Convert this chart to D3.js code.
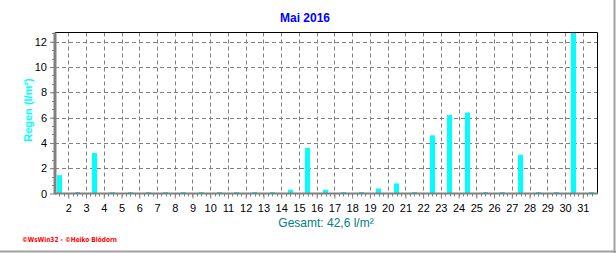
<!DOCTYPE html>
<html>
<head>
<meta charset="utf-8">
<script src="https://cdn.jsdelivr.net/npm/d3@7"></script>
<style>
body { margin: 0; background: #fff; }
svg { display: block; font-family: "Liberation Sans", Arial, sans-serif; }
</style>
</head>
<body>
<svg id="chart" width="616" height="253"></svg>
<script>
// rain per day, May 2016 (l/m²)
var days = d3.range(1, 32);
var rain = [1.45, 0, 3.2, 0, 0, 0, 0, 0, 0, 0, 0, 0, 0, 0.3, 3.6, 0.3, 0, 0, 0.4, 0.8,
	0, 4.6, 6.2, 6.4, 0, 0, 3.05, 0, 0, 12.7, 0];
var xTicks = d3.range(2, 32);
var yTicks = [0, 2, 4, 6, 8, 10, 12];
var title = "Mai 2016";
var total = "Gesamt: 42,6 l/m²";

var svg = d3.select("#chart");
var pLeft = 55, pRight = 597, pTop = 32.5, pBottom = 193.5;

var x = d3.scaleLinear().domain([1.25, 31.8]).range([pLeft, pRight]);
var y = d3.scaleLinear().domain([0, 12.73]).range([pBottom, pTop]);

// outer frame of the picture
svg.append("line").attr("x1", 614.5).attr("x2", 614.5).attr("y1", 0).attr("y2", 253)
	.attr("stroke", "#a0a0a0").attr("stroke-width", 2);
svg.append("line").attr("x1", 0).attr("x2", 616).attr("y1", 251.5).attr("y2", 251.5)
	.attr("stroke", "#a0a0a0").attr("stroke-width", 2);

// grid
svg.append("g").selectAll("line").data(yTicks.filter(function(d){ return d > 0; })).enter()
	.append("line")
	.attr("x1", pLeft).attr("x2", pRight)
	.attr("y1", function(d){ return Math.round(y(d)) + 0.5; })
	.attr("y2", function(d){ return Math.round(y(d)) + 0.5; })
	.attr("stroke", "#808080").attr("stroke-dasharray", "4,3");
svg.append("g").selectAll("line").data(xTicks).enter()
	.append("line")
	.attr("x1", function(d){ return Math.round(x(d)) + 0.5; })
	.attr("x2", function(d){ return Math.round(x(d)) + 0.5; })
	.attr("y1", pTop).attr("y2", pBottom)
	.attr("stroke", "#808080").attr("stroke-dasharray", "4,3");

// bars
var bw = 5;
svg.append("g").selectAll("rect").data(days).enter()
	.append("rect")
	.attr("x", function(d){ return Math.round(x(d + 0.5) - bw / 2); })
	.attr("width", bw)
	.attr("y", function(d, i){ return rain[i] > 0 ? y(rain[i]) : pBottom - 1.5; })
	.attr("height", function(d, i){ return rain[i] > 0 ? pBottom - y(rain[i]) : 1; })
	.attr("fill", "#00ffff");

// top / right border
svg.append("path")
	.attr("d", "M" + pLeft + "," + pTop + "H" + (pRight + 0.5) + "V" + pBottom)
	.attr("fill", "none").attr("stroke", "#000").attr("stroke-width", 1);

// axes
var xAxis = d3.axisBottom(x).tickValues(xTicks).tickSize(4).tickFormat(d3.format("d"));
var gx = svg.append("g").attr("transform", "translate(0," + (pBottom + 1) + ")").call(xAxis);
gx.select(".domain").remove();
gx.selectAll(".tick line").attr("stroke", "#808080");
gx.selectAll(".tick text").attr("font-size", 11).attr("fill", "#000").attr("dy", "0.95em")
	.attr("font-family", "'Liberation Sans', Arial, sans-serif");
// six hour minor ticks
svg.append("g").selectAll("line").data(d3.range(5, 127).map(function(k){ return k / 4; })
	.filter(function(d){ return d > 1.25 && d < 31.8; })).enter()
	.append("line")
	.attr("x1", function(d){ return Math.round(x(d)) + 0.5; })
	.attr("x2", function(d){ return Math.round(x(d)) + 0.5; })
	.attr("y1", pBottom).attr("y2", pBottom + 3)
	.attr("stroke", "#808080");

var yAxis = d3.axisLeft(y).tickValues(yTicks).tickSize(4).tickPadding(3);
var gy = svg.append("g").attr("transform", "translate(" + (pLeft - 1) + ",0)").call(yAxis);
gy.select(".domain").remove();
gy.selectAll(".tick line").attr("stroke", "#808080");
gy.selectAll(".tick text").attr("font-size", 11).attr("fill", "#000")
	.attr("font-family", "'Liberation Sans', Arial, sans-serif");
svg.append("g").selectAll("line").data(d3.range(1, 20).map(function(k){ return k * 2 / 3; })).enter()
	.append("line")
	.attr("x1", pLeft - 3).attr("x2", pLeft)
	.attr("y1", function(d){ return Math.round(y(d)) + 0.5; })
	.attr("y2", function(d){ return Math.round(y(d)) + 0.5; })
	.attr("stroke", "#808080");

svg.append("line").attr("x1", pLeft).attr("x2", pLeft).attr("y1", pTop).attr("y2", pBottom + 1)
	.attr("stroke", "#808080").attr("stroke-width", 3);
svg.append("line").attr("x1", pLeft).attr("x2", pRight + 1).attr("y1", pBottom).attr("y2", pBottom)
	.attr("stroke", "#808080").attr("stroke-width", 2);

// texts
svg.append("text").attr("x", 305).attr("y", 22).attr("text-anchor", "middle")
	.attr("font-size", 12).attr("font-weight", "bold").attr("fill", "#0000ff").text(title);
svg.append("text").attr("transform", "translate(32,110) rotate(-90)").attr("text-anchor", "middle")
	.attr("font-size", 11).attr("font-weight", "bold").attr("fill", "#00ffff").text("Regen (l/m²)");
svg.append("text").attr("x", 326).attr("y", 227).attr("text-anchor", "middle")
	.attr("font-size", 12).attr("fill", "#008080").text(total);
svg.append("text").attr("x", 22).attr("y", 242)
	.attr("font-family", "'DejaVu Sans', sans-serif")
	.attr("font-size", 7).attr("font-weight", "bold").attr("fill", "#ff0000")
	.attr("textLength", 95).attr("lengthAdjust", "spacingAndGlyphs")
	.text("©WsWin32 - ©Heiko Blödorn");
</script>
</body>
</html>
